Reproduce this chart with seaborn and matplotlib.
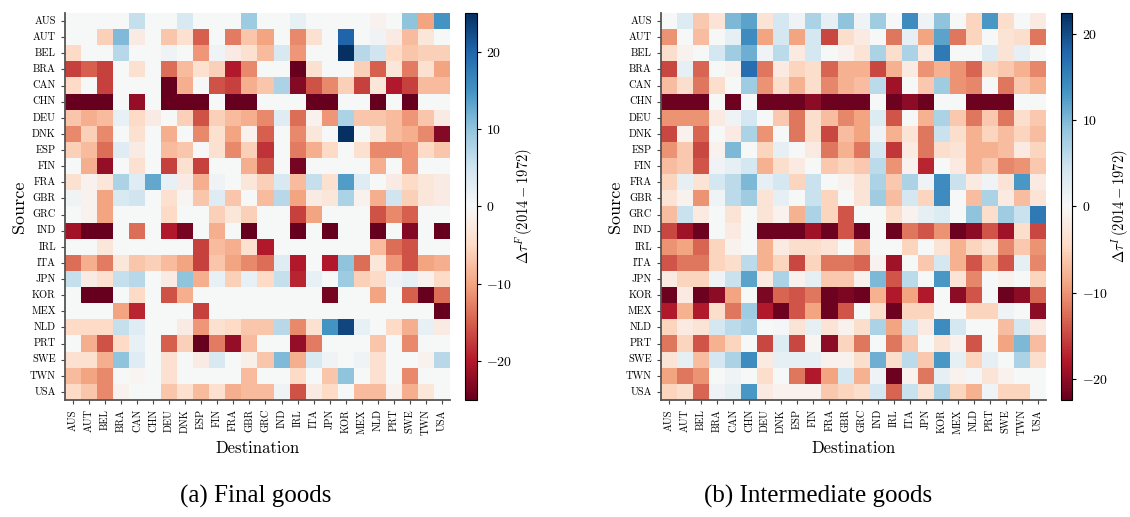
import numpy as np
import pandas as pd
import seaborn as sns
from matplotlib import pyplot as plt

countries = ["AUS", "AUT", "BEL", "BRA", "CAN", "CHN", "DEU", "DNK", "ESP", "FIN", "FRA", "GBR",
             "GRC", "IND", "IRL", "ITA", "JPN", "KOR", "MEX", "NLD", "PRT", "SWE", "TWN", "USA"]

# change in tariff-equivalent trade costs, final goods (rows = source, cols = destination)
final_goods = [
    [0, 0, 0, 0, 6, 0, 0, 4, 0, 0, 0, 9, 0, 0, 2, 0, 0, 0, 0, -1, 0, 10, -10, 15],
    [0, 0, -6, 11, -2, 0, -7, -4, -15, 0, -13, -7, -10, 0, -12, -4, 0, 20, 0, 1, -2, -8, -3, 0],
    [-5, 0, 0, 7, 0, 0, 1, 0, -11, 1, -2, -4, -8, 4, -11, 0, 0, 25, 7, 5, -5, -7, -6, -6],
    [-17, -15, -17, 0, -4, 0, -14, -8, -4, -6, -20, -12, 0, 0, -25, -4, 0, 0, -6, -15, -3, -13, -4, -10],
    [-5, 0, -17, 0, 0, 0, -25, -9, 0, -16, -17, -9, -7, 8, -23, -16, -12, -6, -17, -3, -20, -17, -8, -8],
    [-25, -25, -25, 0, -22, 0, -25, -25, -25, 0, -25, -25, 0, 0, 0, -25, -25, 0, 0, -25, 0, -25, 0, 0],
    [-7, -9, -8, 2, -5, -2, 0, -6, -16, -6, -8, -9, -12, 3, -14, -1, -11, 8, -7, -7, -8, -11, -7, -2],
    [-12, -6, -12, 0, -4, 0, -9, 0, -12, -4, -10, -1, -15, 0, -12, -3, 0, 25, 0, -3, -8, -9, -12, -23],
    [-6, -8, -14, 3, -2, 0, -8, -7, 0, -4, -12, -6, -18, 0, -13, -9, -5, 0, -4, -12, -12, -11, -5, -7],
    [0, -9, -22, 0, -4, 0, -17, -4, -17, 0, 0, -9, -16, 0, -24, 0, 0, 0, 0, -9, 0, -11, 0, 0],
    [-4, -1, -3, 8, 3, 13, 2, -2, -9, 1, 0, -3, -6, 4, -8, 6, -4, 14, 3, 0, -2, -5, -3, -2],
    [1, -1, -10, 4, 5, 0, -4, -0.5, -7, 3, -7, 0, -8, 7, -10, -2, -3, 8, -1, -9, 5, -6, -3, -2],
    [0, -1, -10, 0, 0, 0, -5, 0, 0, -6, -3, -6, 0, 0, -17, -10, 0, 0, 0, -16, -12, -15, 0, 0],
    [-21, -25, -25, 0, -14, 0, -20, -24, 0, -9, 0, -25, 0, 0, -25, 0, -25, 0, 0, -25, 0, -23, 0, -25],
    [0, 0, -3, 0, 0, 0, 0, 0, -17, -8, -9, -4, -20, 0, 0, 0, 0, 0, 0, -8, -14, -16, 0, 0],
    [-14, -9, -13, -3, -7, -6, -8, -10, -17, -7, -10, -12, -14, 3, -20, 0, -20, 10, -14, -3, -11, -16, -10, -9],
    [6, -2, -4, 6, 7, 0, -2, 10, -9, 2, -6, 2, -5, 6, -19, 2, 0, 9, -6, -5, 1, 2, -1, -5],
    [0, -25, -25, 0, -5, 0, -16, -9, 0, 0, 0, 0, 0, 0, 0, 0, -24, 0, 0, -10, 0, -15, -25, -14],
    [0, 0, 0, -10, -19, 0, 0, 0, -17, 0, 0, 0, 0, 0, 0, 0, 0, 0, 0, 0, 0, 0, 0, -25],
    [-5, -5, -5, 6, 3, 0, 0, -2, -11, -4, -5, -7, -7, 7, -12, -4, 15, 23, 2, 0, -5, -9, 2, -2],
    [0, -9, -16, -5, 2, 0, -15, -6, -25, -13, -22, -8, 0, 0, -22, -13, 0, 0, 0, -7, 0, -12, 0, 0],
    [-4, -4, -9, 10, 3, 0, -4, 0, -2, 4, 0, -1.5, -7, 11, -9, 4, 1, 0, 1, -4, 0, 0, -1, 7],
    [-8, -10, -12, 0, -0.5, 0, -4, 0, 0, 0, 0, -8, 0, 0, -5, 0, -7, 10, 0, -4, 0, -12, 0, 0],
    [-5, -7, -12, -1, 0, 0, -7, -4, -8, -4, -9, -8, -8, 1, -16, -2, -5, 0, -8, -8, -1, -9, -3, 0],
]

# same for intermediate goods
intermediate_goods = [
    [0, 3, -6, -3, 10, 12, -3, 4, 1, 7, 2, 9, 1, 8, 0, 14, 1, 9, 0, -5, 13, -4, 0, -2],
    [-10, 0, -7, 0, 2, 14, -9, 4, -9, 4, -15, -4, -2, 0, -12, 2, -9, 12, -12, -5, 0, -3, -4, -12],
    [-4, -1, 0, 4, 8, 11, 1, 6, -2, 4, 0, -1, -3, 7, -4, 7, -2, 16, 0, 0, 3, -3, 2, 0],
    [-15, 2, -13, 0, -1, 17, -12, -2, -5, -4, -13, -8, -8, -15, -8, -2, -10, -8, -10, -13, -5, -6, -8, -11],
    [-7, -4, -12, -4, 0, 8, -10, -4, -8, -4, -11, -8, -7, 6, -19, 0, -6, 8, -10, -11, 0, -12, -6, -8],
    [-22, -22, -22, 0, -22, 0, -22, -22, -22, -20, -22, -22, -22, 0, -22, -20, -22, 0, 0, -22, -22, -22, 0, 0],
    [-10, -10, -10, -2, 1, 4, 0, -6, -12, -4, -7, -11, -9, 3, -14, 0, -8, 7, -6, -12, -6, -12, -4, -6],
    [-15, -1, -13, 0, -2, 7, -10, 0, -12, -4, -15, -7, -9, 1, -8, -3, -12, 5, -4, -8, -5, -7, -5, -7],
    [-10, -6, -15, -1, 10, 0, -5, 2, 0, -2, -12, -8, -12, 4, -16, -2, -12, -4, -3, -8, -8, -7, -2, -5],
    [-7, -6, -14, 1, 2, 4, -8, -4, -2, 0, -6, -5, -6, 6, -10, -1, -17, 0, -2, -8, -6, -11, -10, -6],
    [-5, 2, -3, 4, 6, 10, 2, 4, -5, 5, 0, -1, -3, 7, -6, 7, 1, 14, 5, -2, 1, -3, 13, -2],
    [-3, -1, -10, 1, 6, 8, -3, 2, 0, 5, -5, 0, -3, 8, -7, 4, -5, 14, 0, -7, 7, -2, -7, -3],
    [-7, 5, -2, 0, -3, 0, -3, -1, -8, 7, -5, -14, 0, 0, -4, -1, 2, 3, 0, 9, -4, 8, 5, 16],
    [-15, -19, -22, 0, -2, 0, -22, -22, -22, -19, -22, -14, -22, 0, -22, -12, -14, -10, -22, -20, -14, -19, -4, -15],
    [-10, -9, -13, -5, -1, 0, -8, -2, -4, -4, -3, 0, -7, 0, 0, -5, 0, -3, -8, -5, -3, -11, -6, -10],
    [-14, -12, -12, -5, -4, 6, -8, -5, -15, -5, -12, -12, -13, -1, -19, 0, -6, 4, -8, -14, -8, -14, 2, -11],
    [-2, -5, -5, 1, 5, 12, -2, 7, -1, 2, -6, -6, -1, 10, -14, 6, 0, 13, -3, -11, 0, -1, 0, -5],
    [-22, -2, -22, -20, -9, 0, -21, -13, -14, -12, -22, -21, -22, -8, -18, -9, -18, 0, -20, -14, 0, -22, -20, -13],
    [-18, -8, -18, -4, -12, 8, -18, -22, -14, -9, -22, -14, 0, -4, -22, -5, -5, 0, 0, -5, -5, 1, 0, -20],
    [-5, -2, -3, 4, 6, 7, 0, 0.5, -3, 2, -3, -1, -4, 7, -9, 4, -2, 14, 4, 0, 0, -7, 4, -2],
    [-12, -5, -14, -8, -5, 0, -15, 3, -15, -0.5, -20, -5, -12, 0, -12, -6, 0, -3, -1, -14, 0, -9, 10, -7],
    [-3, 2, -7, 4, 7, 14, -2, 2, 2, 2, -1, -1, -4, 11, -4, 6, -6, 13, 2, -5, 2, 0, 7, -4],
    [-9, -12, -10, 0, 1, 0, -4, 0, -12, -18, -9, 4, -8, 1, -22, -1, -12, 2, -1, 0.5, -3, -1, 0, 0],
    [-5, -4, -13, 1, 2, 13, -2, -1, -1, -1, -6, -5, -4, 4, -13, 5, -3, 7, -5, -8, 1, -5, -5, 0],
]

plt.rcParams["font.family"] = "serif"
plt.rcParams["font.serif"] = ["cmr10", "DejaVu Serif"]
plt.rcParams["mathtext.fontset"] = "cm"
plt.rcParams["axes.formatter.use_mathtext"] = True

fig = plt.figure(figsize=(11.3, 5.17), dpi=100)

panels = [
    (final_goods, 25, "F", [0.0575, 0.2263, 0.3407, 0.7486], [0.4115, 0.2263, 0.0106, 0.7486]),
    (intermediate_goods, 22.4, "I", [0.5850, 0.2263, 0.3407, 0.7486], [0.9385, 0.2263, 0.0106, 0.7486]),
]

for values, lim, sup, axpos, cbpos in panels:
    df = pd.DataFrame(values, index=countries, columns=countries)
    ax = fig.add_axes(axpos)
    cax = fig.add_axes(cbpos)
    sns.heatmap(df, ax=ax, cbar_ax=cax, cmap="RdBu", vmin=-lim, vmax=lim,
                xticklabels=True, yticklabels=True)
    ax.set_xlabel("Destination", fontsize=12, labelpad=4)
    ax.set_ylabel("Source", fontsize=13, labelpad=2)
    ax.tick_params(axis="both", labelsize=7.5, length=3, width=0.8, color="#444444")
    plt.setp(ax.get_xticklabels(), rotation=90)
    plt.setp(ax.get_yticklabels(), rotation=0)
    for side in ["left", "bottom"]:
        ax.spines[side].set_visible(True)
        ax.spines[side].set_color("#555555")
        ax.spines[side].set_linewidth(1.3)
    cbar = ax.collections[0].colorbar
    cbar.set_ticks([-20, -10, 0, 10, 20])
    cbar.ax.tick_params(labelsize=10, length=3, width=0.8)
    cbar.set_label(r"$\Delta\tau^{%s}\,(2014-1972)$" % sup, fontsize=10.5, labelpad=1)
    cbar.outline.set_linewidth(0.8)

fig.text(0.2265, 0.04, "(a) Final goods", ha="center", va="center",
         fontsize=18, family=["Liberation Serif", "DejaVu Serif"])
fig.text(0.7240, 0.04, "(b) Intermediate goods", ha="center", va="center",
         fontsize=18, family=["Liberation Serif", "DejaVu Serif"])

fig.savefig("out.png", dpi=100)
